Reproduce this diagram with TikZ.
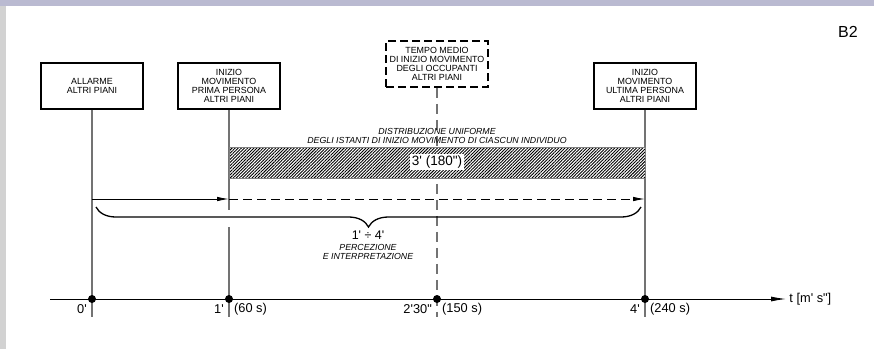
\documentclass[tikz,border=0pt]{standalone}
\usepackage{fontspec}
\setmainfont{Liberation Sans}[Ligatures=TeXOff]
\usetikzlibrary{
    arrows.meta,
    patterns.meta,
    decorations.pathreplacing,
    positioning
}

\begin{document}
\begin{tikzpicture}[x=1pt,y=-1pt,
    box/.style={draw,line width=1.8pt,minimum width=102pt,minimum height=46pt,
        inner sep=1pt,align=center,font=\fontsize{8.9}{9}\selectfont},
    dashbox/.style={box,dash pattern=on 8pt off 4pt},
    tick/.style={gray!90!black,line width=1.5pt},
    dashtick/.style={tick,dash pattern=on 10pt off 6pt},
    axis/.style={line width=0.9pt,-{Latex[length=15pt,width=5pt]}},
    arr/.style={line width=0.9pt,-{Latex[length=12pt,width=4.5pt]}},
    dot/.style={circle,fill=black,inner sep=0pt,minimum size=8pt},
    lab/.style={inner sep=0pt,font=\fontsize{12.8}{14}\selectfont},
    small/.style={align=center,inner sep=0pt,font=\itshape\fontsize{8.8}{9}\selectfont}
]

% frame
\useasboundingbox (0,0) rectangle (874,349);
\fill[white] (0,0) rectangle (874,349);
\fill[gray!35] (0,0) rectangle (6,349);
\fill[blue!20!gray!45] (0,0) rectangle (874,6);

\node[font=\fontsize{16}{18}\selectfont] (tag) at (848,32) {B2};

% Boxes
\node[box] (allarme) at (92,86) {ALLARME\\ALTRI PIANI};
\node[box] (prima) at (229,86) {INIZIO\\MOVIMENTO\\PRIMA PERSONA\\ALTRI PIANI};
\node[dashbox] (medio) at (437,64) {TEMPO MEDIO\\DI INIZIO MOVIMENTO\\DEGLI OCCUPANTI\\ALTRI PIANI};
\node[box] (ultima) at (645,86) {INIZIO\\MOVIMENTO\\ULTIMA PERSONA\\ALTRI PIANI};

% Time axis
\coordinate (tstart) at (50,299);
\coordinate (tend) at (786,299);
\coordinate (low) at (0,317);
\coordinate (t0) at (allarme.south |- tstart);
\coordinate (t1) at (prima.south |- tstart);
\coordinate (t2) at (medio.south |- tstart);
\coordinate (t4) at (ultima.south |- tstart);

% Vertical lines
\draw[tick] (allarme.south) -- (allarme.south |- low);
\draw[tick] (prima.south) -- ++(0,100);
\draw[tick] (prima.south |- 0,227) -- (prima.south |- low);
\draw[dashtick] (medio.south) -- (medio.south |- low);
\draw[tick] (ultima.south) -- (ultima.south |- low);

\draw[axis] (tstart) -- (tend) node[right=3pt,lab] (tlab) {t [m' s"]};

\foreach \p in {t0,t1,t2,t4}
    \node[dot] (d\p) at (\p) {};

\node[lab,anchor=east] (l0) at ([shift={(-5,10)}]t0) {0'};
\node[lab,anchor=east] (l1) at ([shift={(-5,10)}]t1) {1'};
\node[lab,anchor=west] (r1) at ([shift={(5,10)}]t1) {(60 s)};
\node[lab,anchor=east] (l2) at ([shift={(-5,10)}]t2) {2'30"};
\node[lab,anchor=west] (r2) at ([shift={(5,10)}]t2) {(150 s)};
\node[lab,anchor=east] (l4) at ([shift={(-5,10)}]t4) {4'};
\node[lab,anchor=west] (r4) at ([shift={(5,10)}]t4) {(240 s)};

% Hatched band
\fill[white] (prima.south |- 0,147) rectangle (ultima.south |- 0,178);
\draw[gray,line width=0.6pt,pattern={Lines[angle=45,distance=2.2pt,line width=0.9pt]},pattern color=black]
    (prima.south |- 0,147) rectangle (ultima.south |- 0,178);
\node[fill=white,inner sep=1.5pt,font=\fontsize{13.5}{14}\selectfont] (durata) at (437,162) {3' (180")};
\node[small] (distr) at (437,135.5) {DISTRIBUZIONE UNIFORME\\DEGLI ISTANTI DI INIZIO MOVIMENTO DI CIASCUN INDIVIDUO};

% Arrows
\coordinate (a0) at (allarme.south |- 0,199);
\coordinate (a1) at (prima.south |- 0,199);
\coordinate (a4) at (ultima.south |- 0,199);
\draw[arr] (a0) -- (a1);
\draw[arr,dash pattern=on 9pt off 5pt] (a1) -- (a4);

% Brace
\draw[line width=1.3pt,decorate,decoration={brace,mirror,amplitude=20pt}]
    (96,207) -- (641,207);
\node[font=\fontsize{12.5}{14}\selectfont,inner sep=0pt] (range) at (368,235) {1' ÷ 4'};
\node[small] (perc) at (368,251.5) {PERCEZIONE\\E INTERPRETAZIONE};

\end{tikzpicture}
\end{document}
